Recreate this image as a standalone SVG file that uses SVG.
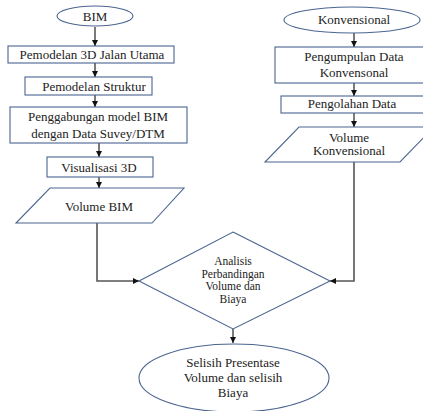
<svg xmlns="http://www.w3.org/2000/svg" width="423" height="411" viewBox="0 0 423 411">
<style>
.s{fill:#fff;stroke:#4a6590;stroke-width:1.1}
.t{font-family:"Liberation Serif","Times New Roman",serif;font-size:13px;fill:#222;text-anchor:middle}
.d{font-size:11.5px}
.c{fill:none;stroke:#222;stroke-width:1.2}
.g{fill:none;stroke:#555;stroke-width:1.6}
</style>
<defs>
<marker id="ah" viewBox="0 0 10 10" refX="10" refY="5" markerWidth="6" markerHeight="6" markerUnits="userSpaceOnUse" orient="auto">
<path d="M0,0 L10,5 L0,10 z" fill="#111"/>
</marker>
</defs>
<rect width="423" height="411" fill="#fff"/>
<g id="connectors">
<path class="c" d="M95,27 V46" marker-end="url(#ah)"/>
<path class="c" d="M95,63 V77" marker-end="url(#ah)"/>
<path class="c" d="M95,95 V107" marker-end="url(#ah)"/>
<path class="c" d="M99,143 V157" marker-end="url(#ah)"/>
<path class="c" d="M99,177 V188" marker-end="url(#ah)"/>
<path class="g" d="M97,223 V281 H139" marker-end="url(#ah)"/>
<path class="c" d="M354,33 V47" marker-end="url(#ah)"/>
<path class="c" d="M354,83 V96" marker-end="url(#ah)"/>
<path class="c" d="M354,113 V127" marker-end="url(#ah)"/>
<path class="g" d="M354,162 V281 H330" marker-end="url(#ah)"/>
<path class="c" d="M233,329 V343" marker-end="url(#ah)"/>
</g>
<g id="bim">
<ellipse class="s" cx="95" cy="16" rx="38" ry="10"/>
<text class="t" x="95" y="20.5">BIM</text>
</g>
<g id="pemodelan3d">
<rect class="s" x="8" y="46" width="166" height="17"/>
<text class="t" x="92" y="59">Pemodelan 3D Jalan Utama</text>
</g>
<g id="pemodelanstruktur">
<rect class="s" x="25" y="77" width="127" height="18"/>
<text class="t" x="94" y="90.5">Pemodelan Struktur</text>
</g>
<g id="penggabungan">
<rect class="s" x="10" y="107" width="177" height="36"/>
<text class="t" x="98" y="120.5">Penggabungan model BIM</text>
<text class="t" x="98" y="138">dengan Data Suvey/DTM</text>
</g>
<g id="visualisasi">
<rect class="s" x="47" y="157" width="106" height="20"/>
<text class="t" x="99" y="171.5">Visualisasi 3D</text>
</g>
<g id="volumebim">
<polygon class="s" points="50,188 184,188 152,223 16,223"/>
<text class="t" x="99" y="211">Volume BIM</text>
</g>
<g id="konvensional">
<ellipse class="s" cx="352" cy="20" rx="68" ry="13"/>
<text class="t" x="354" y="24">Konvensional</text>
</g>
<g id="pengumpulan">
<rect class="s" x="275" y="47" width="150" height="36"/>
<text class="t" x="354" y="61">Pengumpulan Data</text>
<text class="t" x="354" y="77">Konvensonal</text>
</g>
<g id="pengolahan">
<rect class="s" x="281" y="96" width="144" height="17"/>
<text class="t" x="352" y="108">Pengolahan Data</text>
</g>
<g id="volumekonv">
<polygon class="s" points="299,127 434,127 400,162 265,162"/>
<text class="t" x="349" y="141.5">Volume</text>
<text class="t" x="349" y="155">Konvensional</text>
</g>
<g id="analisis">
<polygon class="s" points="233,232 330,281 233,329 139,281"/>
<text class="t d" x="233" y="265">Analisis</text>
<text class="t d" x="233" y="277.5">Perbandingan</text>
<text class="t d" x="233" y="290">Volume dan</text>
<text class="t d" x="233" y="302.5">Biaya</text>
</g>
<g id="selisih">
<ellipse class="s" cx="234" cy="378" rx="95" ry="34"/>
<text class="t" x="233" y="367">Selisih Presentase</text>
<text class="t" x="233" y="382">Volume dan selisih</text>
<text class="t" x="233" y="397">Biaya</text>
</g>
</svg>
